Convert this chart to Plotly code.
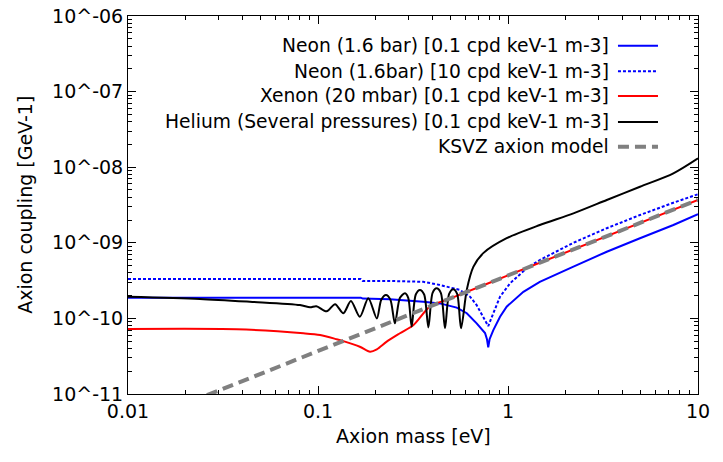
import plotly.graph_objects as go

# ---- data (axion mass [eV], coupling [GeV-1]) ----
neon_m = [0.01, 0.168, 0.172, 0.239, 0.358, 0.438, 0.537, 0.607, 0.684, 0.757, 0.775, 0.787,
          0.80, 0.837, 0.908, 0.984, 1.205, 1.47, 2.21, 3.31, 4.95, 7.42, 10]
neon_g = [1.88e-10, 1.88e-10, 1.83e-10, 1.79e-10, 1.66e-10, 1.58e-10, 1.39e-10, 1.17e-10, 8.6e-11,
          6.4e-11, 5.3e-11, 4.15e-11, 5.3e-11, 7.0e-11, 1.05e-10, 1.43e-10, 2.25e-10, 3.05e-10,
          4.83e-10, 7.62e-10, 1.15e-9, 1.72e-9, 2.4e-9]

neon10_m = [0.01, 0.168, 0.172, 0.239, 0.358, 0.438, 0.558, 0.631, 0.684, 0.741, 0.787, 0.837,
            0.908, 1.025, 1.254, 1.47, 2.21, 3.31, 4.95, 7.42, 10]
neon10_g = [3.32e-10, 3.32e-10, 3.13e-10, 3.13e-10, 3.05e-10, 2.77e-10, 2.38e-10, 1.94e-10,
            1.50e-10, 1.05e-10, 7.9e-11, 1.17e-10, 1.94e-10, 2.91e-10, 4.6e-10, 5.92e-10, 1.0e-9,
            1.56e-9, 2.33e-9, 3.39e-9, 4.39e-9]

xenon_m = [0.01, 0.0373, 0.0838, 0.1026, 0.1254, 0.136, 0.166, 0.188, 0.204, 0.230, 0.270,
           0.318, 0.388, 0.495, 1, 10]
xenon_g = [7.24e-11, 7.18e-11, 6.36e-11, 6.03e-11, 5.3e-11, 5.0e-11, 4.22e-11, 3.63e-11, 3.9e-11,
           4.92e-11, 6.36e-11, 8.18e-11, 1.43e-10, 1.83e-10, 3.7e-10, 3.7e-9]

helium_m = [0.01, 0.0239, 0.0438, 0.0804, 0.0908, 0.098, 0.111, 0.123, 0.136, 0.149, 0.166,
            0.184, 0.204, 0.2153, 0.228, 0.2404, 0.254, 0.270, 0.287, 0.2985, 0.311, 0.327,
            0.344, 0.362, 0.381, 0.401, 0.421, 0.443, 0.466, 0.490, 0.515, 0.540, 0.566,
            0.607, 0.657, 0.741, 0.984, 1.47, 2.21, 3.31, 4.95, 7.42, 10]
helium_g = [1.94e-10, 1.81e-10, 1.66e-10, 1.50e-10, 1.40e-10, 1.45e-10, 1.24e-10, 1.54e-10,
            1.17e-10, 1.70e-10, 1.05e-10, 1.85e-10, 1.0e-10, 1.77e-10, 2.04e-10, 1.77e-10,
            8.6e-11, 1.87e-10, 2.15e-10, 1.87e-10, 7.8e-11, 2.07e-10, 2.38e-10, 2.07e-10,
            7.6e-11, 2.18e-10, 2.5e-10, 2.18e-10, 7.4e-11, 2.11e-10, 2.43e-10, 2.11e-10,
            7.4e-11, 2.4e-10, 4.8e-10, 7.3e-10, 1.15e-9, 1.72e-9, 2.45e-9, 3.68e-9, 5.52e-9,
            8.3e-9, 1.31e-8]

ksvz_m = [0.01, 0.1, 1, 10]
ksvz_g = [3.7e-12, 3.7e-11, 3.7e-10, 3.7e-9]

labels = ["Neon (1.6 bar) [0.1 cpd keV-1 m-3]",
          "Neon (1.6bar) [10 cpd keV-1 m-3]",
          "Xenon (20 mbar) [0.1 cpd keV-1 m-3]",
          "Helium (Several pressures) [0.1 cpd keV-1 m-3]",
          "KSVZ axion model"]

x_ticks = [0.01, 0.1, 1, 10]
x_text = ["0.01", "0.1", "1", "10"]
y_ticks = [1e-11, 1e-10, 1e-9, 1e-8, 1e-7, 1e-6]
y_text = ["10^-11", "10^-10", "10^-09", "10^-08", "10^-07", "10^-06"]

styles = [dict(color='#0000ff', width=2),
          dict(color='#0000ff', width=2, dash='3px,2px'),
          dict(color='#ff0000', width=2),
          dict(color='black', width=2),
          dict(color='#808080', width=4, dash='11px,6px')]
shapes = ['linear', 'linear', 'spline', 'spline', 'linear']

series = [(neon_m, neon_g), (neon10_m, neon10_g), (xenon_m, xenon_g),
          (helium_m, helium_g), (ksvz_m, ksvz_g)]

fs = 19

fig = go.Figure()
for (m, g), st, lab, shp in zip(series, styles, labels, shapes):
    fig.add_trace(go.Scatter(x=m, y=g, mode='lines', name=lab, showlegend=False,
                             line=dict(shape=shp, smoothing=0.8, **st)))

# legend drawn by hand: text on the left, line sample on the right
rows = [0.9214, 0.8537, 0.7884, 0.7196, 0.6542]
for lab, st, yy in zip(labels, styles, rows):
    fig.add_annotation(text=lab, xref='paper', yref='paper', x=0.848, y=yy,
                       xanchor='right', yanchor='middle', showarrow=False,
                       font=dict(size=18.7, color='black'))
    fig.add_shape(type='line', xref='paper', yref='paper', x0=0.8596, x1=0.9298,
                  y0=yy, y1=yy, line=st)

# axis titles
fig.add_annotation(text='Axion mass [eV]', xref='paper', yref='paper', x=0.5, y=-0.11,
                   xanchor='center', yanchor='middle', showarrow=False, font=dict(size=fs))
fig.add_annotation(text='Axion coupling [GeV-1]', xref='paper', yref='paper', x=-0.181, y=0.5,
                   xanchor='center', yanchor='middle', showarrow=False, textangle=-90,
                   font=dict(size=fs))

minor_x = [k * 10 ** e for e in range(-2, 1) for k in range(2, 10)]
minor_y = [k * 10.0 ** e for e in range(-11, -6) for k in range(2, 10)]

fig.update_xaxes(type='log', range=[-2, 1], tickvals=x_ticks, ticktext=x_text,
                 ticks='inside', ticklen=8, tickcolor='black', showline=True, linecolor='black',
                 mirror='allticks', showgrid=False, zeroline=False, automargin=False,
                 minor=dict(ticks='inside', ticklen=4, tickcolor='black', tickvals=minor_x, showgrid=False))
fig.update_yaxes(type='log', range=[-11, -6], tickvals=y_ticks, ticktext=y_text,
                 ticks='inside', ticklen=8, tickcolor='black', showline=True, linecolor='black',
                 mirror='allticks', showgrid=False, zeroline=False, automargin=False,
                 minor=dict(ticks='inside', ticklen=4, tickcolor='black', tickvals=minor_y, showgrid=False))

fig.update_layout(width=723, height=462, plot_bgcolor='white', paper_bgcolor='white',
                  font=dict(family='DejaVu Sans', size=fs, color='black'),
                  margin=dict(l=128, r=25, t=16, b=68), showlegend=False)

fig.write_html("out.html", config={'displayModeBar': False},
               post_script="document.body.style.margin='0';")
